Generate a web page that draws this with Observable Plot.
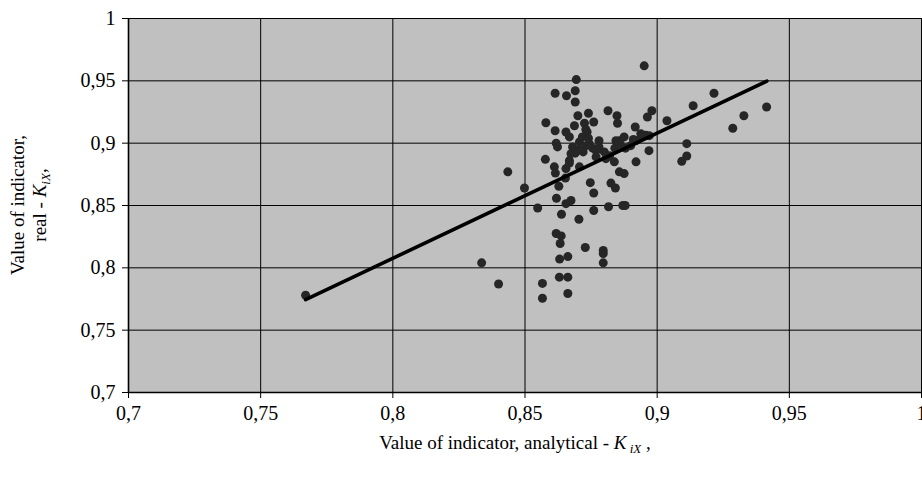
<!DOCTYPE html>
<html>
<head>
<meta charset="utf-8">
<script src="https://cdn.jsdelivr.net/npm/d3@7"></script>
<script src="https://cdn.jsdelivr.net/npm/@observablehq/plot@0.6"></script>
<style>
html, body { margin: 0; padding: 0; background: #ffffff; overflow: hidden; }
</style>
</head>
<body>
<div id="chart"></div>
<script>
// Analytical indicator K_iX (x) vs real indicator K_iX (y)
const analytical = [
  0.767, 0.8336, 0.840, 0.8435, 0.8498, 0.8548, 0.8566, 0.8566, 0.8577, 0.8579,
  0.8614, 0.8614, 0.8618, 0.8623, 0.8611, 0.8615, 0.8628, 0.8619, 0.8618, 0.8637,
  0.8633, 0.8631, 0.8662, 0.863, 0.8662, 0.8662, 0.8638, 0.8655, 0.8674, 0.8653,
  0.8655, 0.8668, 0.8674, 0.8657, 0.869, 0.8694, 0.869, 0.8655, 0.8668, 0.8687,
  0.870, 0.874, 0.8725, 0.876, 0.8706, 0.8731, 0.8756, 0.878, 0.8706, 0.8769,
  0.8747, 0.876, 0.8704, 0.876, 0.8728, 0.8796, 0.8796, 0.8796, 0.8816, 0.887,
  0.8879, 0.8825, 0.8842, 0.8857, 0.8875, 0.8838, 0.892, 0.8857, 0.8875, 0.892,
  0.8814, 0.8848, 0.885, 0.8917, 0.8951, 0.898, 0.8963, 0.9037, 0.9136, 0.9215,
  0.9414, 0.9328, 0.9286, 0.9112, 0.9112, 0.9093, 0.8969, 0.8938, 0.8957, 0.8717,
  0.8743, 0.8769, 0.8806, 0.8844, 0.8668, 0.888, 0.890, 0.8735, 0.8705, 0.868,
  0.872, 0.874, 0.878, 0.880, 0.882, 0.884, 0.886, 0.891, 0.894, 0.897,
  0.869, 0.873
];
const real = [
  0.778, 0.804, 0.787, 0.877, 0.864, 0.848, 0.7875, 0.7756, 0.887, 0.9164,
  0.940, 0.910, 0.900, 0.897, 0.881, 0.876, 0.8654, 0.8558, 0.8275, 0.8256,
  0.8195, 0.807, 0.809, 0.7925, 0.7925, 0.7794, 0.843, 0.8515, 0.854, 0.872,
  0.8796, 0.886, 0.8916, 0.938, 0.942, 0.951, 0.933, 0.909, 0.905, 0.914,
  0.922, 0.924, 0.916, 0.917, 0.901, 0.898, 0.896, 0.902, 0.881, 0.889,
  0.8683, 0.860, 0.839, 0.846, 0.8163, 0.814, 0.8115, 0.804, 0.849, 0.850,
  0.850, 0.868, 0.864, 0.877, 0.8756, 0.885, 0.885, 0.902, 0.905, 0.902,
  0.926, 0.922, 0.916, 0.913, 0.962, 0.926, 0.921, 0.918, 0.930, 0.940,
  0.929, 0.922, 0.912, 0.8996, 0.8897, 0.8854, 0.894, 0.9076, 0.9063, 0.905,
  0.8996, 0.894, 0.8876, 0.902, 0.884, 0.896, 0.898, 0.909, 0.895, 0.897,
  0.893, 0.904, 0.897, 0.893, 0.890, 0.896, 0.899, 0.903, 0.905, 0.906,
  0.892, 0.911
];
// Trend line endpoints
const trendX = [0.767, 0.9415];
const trendY = [0.7745, 0.9498];
// Tick values
const xTicks = [0.7, 0.75, 0.8, 0.85, 0.9, 0.95, 1];
const yTicks = [0.7, 0.75, 0.8, 0.85, 0.9, 0.95, 1];
const gridX = [0.75, 0.8, 0.85, 0.9, 0.95, 1];
const gridY = [0.75, 0.8, 0.85, 0.9, 0.95, 1];

const points = analytical.map((x, i) => ({x, y: real[i]}));
const trend = trendX.map((x, i) => ({x, y: trendY[i]}));
const fmt = d => String(d).replace(".", ",");

const W = 922, H = 477;
const chart = Plot.plot({
  width: W,
  height: H,
  marginLeft: 128,
  marginRight: 1,
  marginTop: 18,
  marginBottom: 85,
  style: {fontFamily: "'Liberation Serif', 'Times New Roman', serif", fontSize: "20px", color: "#000", background: "#fff", overflow: "visible"},
  x: {domain: [0.7, 1]},
  y: {domain: [0.7, 1]},
  marks: [
    Plot.frame({fill: "#c0c0c0", stroke: null}),
    Plot.gridX(gridX, {stroke: "#000", strokeOpacity: 1, strokeWidth: 1}),
    Plot.gridY(gridY, {stroke: "#000", strokeOpacity: 1, strokeWidth: 1}),
    Plot.ruleX([0.7], {stroke: "#000", strokeWidth: 1.6}),
    Plot.ruleY([0.7], {stroke: "#000", strokeWidth: 1.6}),
    Plot.axisX({ticks: xTicks, tickFormat: fmt, tickSize: 6, tickPadding: 7, label: null, fontSize: 20}),
    Plot.axisY({ticks: yTicks, tickFormat: fmt, tickSize: 6, tickPadding: 7, label: null, fontSize: 20}),
    Plot.dot(points, {x: "x", y: "y", r: 4.5, fill: "#262626", stroke: null}),
    Plot.line(trend, {x: "x", y: "y", stroke: "#000", strokeWidth: 3.6})
  ]
});
document.getElementById("chart").appendChild(chart);

// Axis titles with italic K and subscript
const svg = d3.select(chart);
const ff = "'Liberation Serif', 'Times New Roman', serif";
const xl = svg.append("text")
  .attr("x", 515).attr("y", 449)
  .attr("text-anchor", "middle")
  .attr("font-family", ff).attr("font-size", 19).attr("fill", "#000");
xl.append("tspan").text("Value of indicator, analytical - ");
xl.append("tspan").attr("font-style", "italic").text("K");
xl.append("tspan").attr("font-style", "italic").attr("font-size", 13).attr("dy", 4).text(" iX");
xl.append("tspan").attr("dy", -4).text(" ,");

const yl = svg.append("g").attr("transform", "translate(0,205) rotate(-90)");
yl.append("text").attr("x", 0).attr("y", 24)
  .attr("text-anchor", "middle")
  .attr("font-family", ff).attr("font-size", 19).attr("fill", "#000")
  .text("Value of indicator,");
const yl2 = yl.append("text").attr("x", 0).attr("y", 46)
  .attr("text-anchor", "middle")
  .attr("font-family", ff).attr("font-size", 19).attr("fill", "#000");
yl2.append("tspan").text("real - ");
yl2.append("tspan").attr("font-style", "italic").text("K");
yl2.append("tspan").attr("font-style", "italic").attr("font-size", 13).attr("dy", 4).text("iX");
yl2.append("tspan").attr("dy", -4).text(",");
</script>
</body>
</html>
